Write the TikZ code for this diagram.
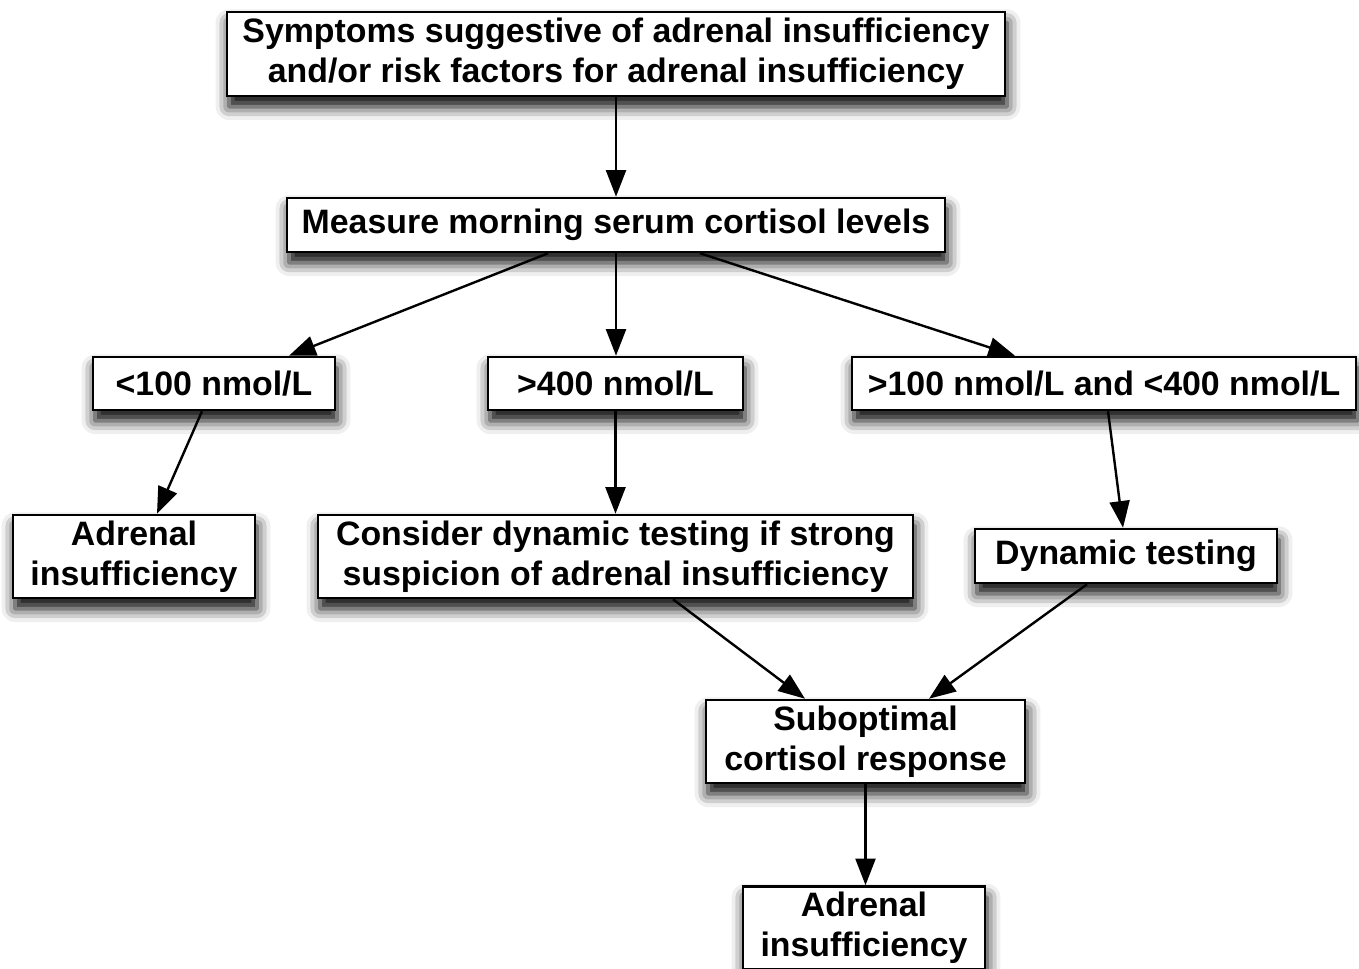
\documentclass[tikz,border=0pt]{standalone}
\usepackage{fontspec}
\setmainfont{Liberation Sans}
\usetikzlibrary{arrows.meta,calc,shadows.blur}
\begin{document}
\begin{tikzpicture}[x=0.75pt,y=-0.75pt,
  box/.style={draw=black, line width=1.9pt, fill=white, align=center,
    font=\fontsize{25.4}{30}\selectfont\bfseries, inner sep=0pt,
    blur shadow={shadow xshift=1.5pt, shadow yshift=-8pt, shadow blur radius=10pt, shadow opacity=100}},
  arr/.style={line width=1.8pt, -{Triangle[length=20pt,width=15pt]}}]
\useasboundingbox (0,0) rectangle (1359,969);
\node[box, minimum width=778*0.75pt, minimum height=84*0.75pt] (top) at (616,54)
  {Symptoms suggestive of adrenal insufficiency\\and/or risk factors for adrenal insufficiency};
\node[box, minimum width=658*0.75pt, minimum height=54*0.75pt] (measure) at (616,225)
  {Measure morning serum cortisol levels};
\node[box, minimum width=242*0.75pt, minimum height=53*0.75pt] (lt100) at (214,383.5)
  {<100 nmol/L};
\node[box, minimum width=255*0.75pt, minimum height=53*0.75pt] (gt400) at (615.5,383.5)
  {>400 nmol/L};
\node[box, minimum width=504*0.75pt, minimum height=53*0.75pt] (mid) at (1104,383.5)
  {>100 nmol/L and <400 nmol/L};
\node[box, minimum width=242*0.75pt, minimum height=83*0.75pt] (ai1) at (134,556.5)
  {Adrenal\\insufficiency};
\node[box, minimum width=595*0.75pt, minimum height=83*0.75pt] (consider) at (615.5,556.5)
  {Consider dynamic testing if strong\\suspicion of adrenal insufficiency};
\node[box, minimum width=302*0.75pt, minimum height=54*0.75pt] (dyn) at (1126,556)
  {Dynamic testing};
\node[box, minimum width=319*0.75pt, minimum height=83*0.75pt] (sub) at (865.5,741.5)
  {Suboptimal\\cortisol response};
\node[box, minimum width=242*0.75pt, minimum height=83*0.75pt] (ai2) at (864,928)
  {Adrenal\\insufficiency};
\draw[arr] (top.south) -- (top.south |- measure.north);
\draw[arr] ($(measure.south)+(-68,0)$) -- ($(lt100.north)+(75,0)$);
\draw[arr] (measure.south) -- (measure.south |- gt400.north);
\draw[arr] ($(measure.south)+(84,0)$) -- ($(mid.north)+(-89,0)$);
\draw[arr] ($(lt100.south)+(-12,0)$) -- ($(ai1.north)+(23,0)$);
\draw[arr] (gt400.south) -- (gt400.south |- consider.north);
\draw[arr] ($(mid.south)+(4,0)$) -- ($(dyn.north)+(-3,0)$);
\draw[arr] ($(consider.south)+(57.5,0)$) -- ($(sub.north)+(-60.5,0)$);
\draw[arr] ($(dyn.south)+(-39,0)$) -- ($(sub.north)+(63.5,0)$);
\draw[arr] (sub.south) -- (sub.south |- ai2.north);
\end{tikzpicture}
\end{document}
